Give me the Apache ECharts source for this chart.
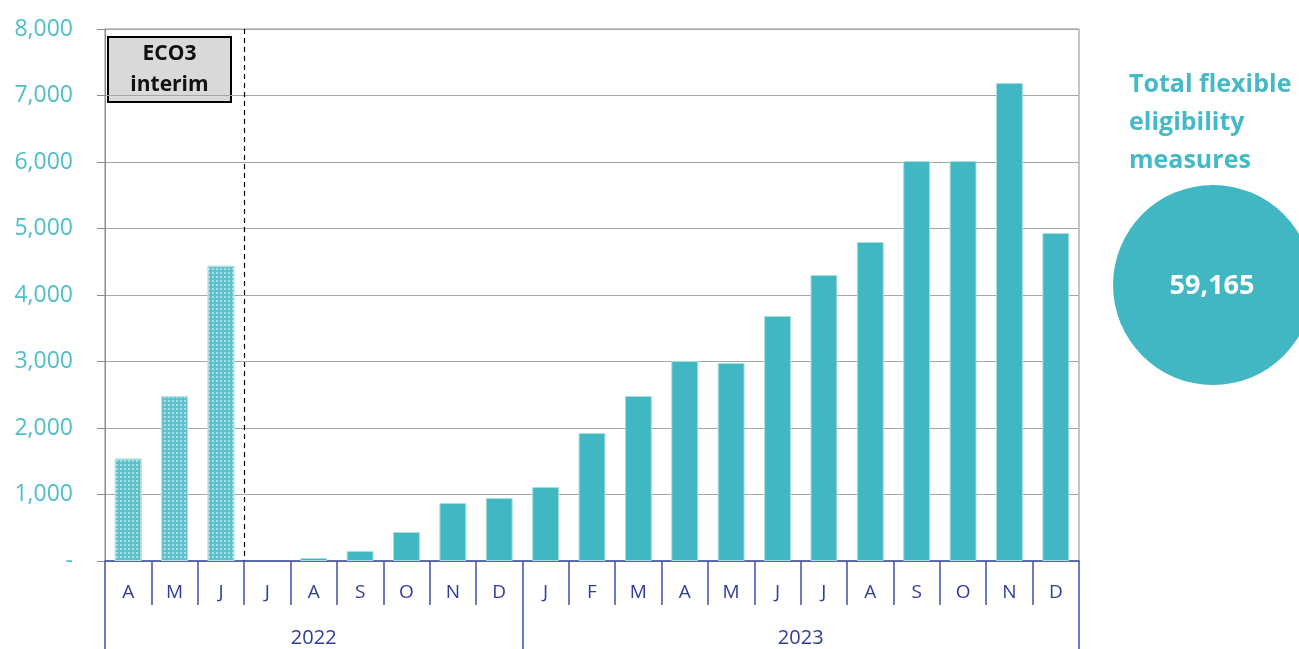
<!DOCTYPE html>
<html>
<head>
<meta charset="utf-8">
<script src="https://cdn.jsdelivr.net/npm/echarts@6/dist/echarts.min.js"></script>
<style>html,body{margin:0;padding:0;background:#fff}#c{width:1299px;height:649px}</style>
</head>
<body>
<div id="c"></div>
<script>
const months = ['A','M','J','J','A','S','O','N','D','J','F','M','A','M','J','J','A','S','O','N','D'];
const values = [1540,2480,4440,0,45,150,436,872,947,1113,1925,2481,3008,2977,3684,4300,4797,6015,6015,7188,4932];
const interimCount = 3; // first bars are ECO3 interim
const years = ['2022','2023'];
const yearSpans = [9,12]; // months per year
const yTicks = {min:0, max:8000, interval:1000};
const totalLabel = 'Total flexible\neligibility\nmeasures';
const totalValue = 59165;

// half-step slots for year row
const halfSlots = [];
const nHalf = months.length*2 + 1;
for (let k=0;k<nHalf;k++) halfSlots.push('');
const boundaries = [0];
let acc = 0;
yearSpans.forEach((s,i)=>{ halfSlots[acc+s] = years[i]; acc += s*2; boundaries.push(acc); });
const interimSlot = interimCount*2;

const teal = '#42b7c4';
const navy = '#2f3c9a';
const chart = echarts.init(document.getElementById('c'));
const barData = values.map((v,i)=> i<interimCount ? {
  value:v,
  itemStyle:{color:'#5cc1ca', borderColor:'#b6e4dc', decal:{symbol:'rect', symbolSize:0.8, dashArrayX:[[1.5,1.5]], dashArrayY:[1.5,1.5], color:'rgba(255,255,255,0.8)'}}
} : (v===0 ? {value:v, itemStyle:{borderWidth:0}} : v));

chart.setOption({
  animation:false,
  grid:{left:105, right:220, top:29, bottom:88, show:true, borderColor:'#8c8c8c', borderWidth:1},
  xAxis:[{
    type:'category', data:months, position:'bottom',
    axisLine:{lineStyle:{color:'#4050a8', width:1.5}},
    axisTick:{show:true, interval:0, length:44, lineStyle:{color:'#4050a8', width:1.5}},
    axisLabel:{color:navy, fontSize:19, fontFamily:'Open Sans', margin:22, interval:0}
  },{
    type:'category', data:halfSlots, position:'bottom', boundaryGap:false,
    axisLine:{show:false},
    axisTick:{show:true, length:88, interval:(i)=>boundaries.indexOf(i)>=0, lineStyle:{color:'#4050a8', width:1.5}},
    axisLabel:{color:navy, fontSize:20, fontFamily:'Open Sans', margin:67, interval:(i,v)=>v!=='', hideOverlap:false},
    splitLine:{show:true, interval:(i)=>i===interimSlot, lineStyle:{color:'#000', type:[5,4], width:1.2}}
  }],
  yAxis:{
    type:'value', min:yTicks.min, max:yTicks.max, interval:yTicks.interval,
    axisLine:{show:true, lineStyle:{color:'#8c8c8c'}},
    axisTick:{show:true, length:8, lineStyle:{color:'#8c8c8c'}},
    splitLine:{lineStyle:{color:'#a6a6a6'}},
    axisLabel:{color:'#4cbfcb', fontSize:23, fontFamily:'Open Sans', margin:32,
      formatter:v=> v===0 ? '-' : v.toLocaleString('en-US')}
  },
  series:[{
    type:'bar', data:barData, barWidth:'58%', xAxisIndex:0,
    itemStyle:{color:teal, borderColor:'#a8e0d6', borderWidth:1}
  }],
  graphic:[
    {type:'group', left:107, top:36, children:[
      {type:'rect', shape:{x:0,y:0,width:123,height:65}, style:{fill:'#d9d9d9', stroke:'#000', lineWidth:2}},
      {type:'text', x:61.5, y:33, style:{text:'ECO3\ninterim', fill:'#111', font:'bold 21px "Open Sans"', align:'center', verticalAlign:'middle', lineHeight:31}}
    ]},
    {type:'text', left:1129, top:66, style:{text:totalLabel, fill:'#45b9c5', font:'bold 25px "Open Sans"', lineHeight:38}},
    {type:'circle', shape:{cx:1213, cy:285, r:100}, style:{fill:'#42b7c4'}},
    {type:'text', x:1212, y:286, style:{text:totalValue.toLocaleString('en-US'), fill:'#fff', font:'bold 27px "Open Sans"', align:'center', verticalAlign:'middle'}}
  ]
});
</script>
</body>
</html>
